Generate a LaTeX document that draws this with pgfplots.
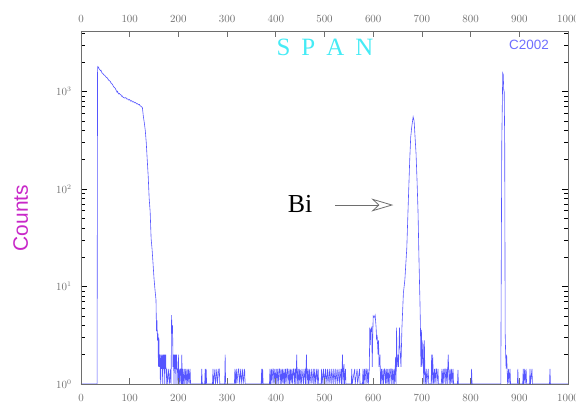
\documentclass[border=0pt]{standalone}
\usepackage{pgfplots}
\pgfplotsset{compat=1.18}
\usepackage{fontspec}
\setmainfont{Liberation Serif}
\newfontfamily\arialfont{Liberation Sans}
\usetikzlibrary{arrows.meta}
\definecolor{specblue}{RGB}{85,85,255}
\definecolor{tickgray}{RGB}{110,110,110}
\definecolor{spanc}{RGB}{70,235,245}
\definecolor{countm}{RGB}{200,40,200}
\definecolor{cblue}{RGB}{110,110,255}
\begin{document}
\begin{tikzpicture}
\useasboundingbox (-81bp,-19bp) rectangle (495bp,384bp);
\begin{axis}[
  at={(0,0)}, anchor=south west,
  scale only axis, width=487bp, height=353bp,
  xmin=0, xmax=1000, ymin=1, ymax=4200, ymode=log,
  xtick={0,100,...,1000},
  tick align=inside,
  axis on top,
  axis line style={tickgray, line width=0.8pt},
  major tick length=6bp, minor tick length=4bp,
  xtick style={tickgray, line width=0.7pt},
  ytick style={black, line width=0.7pt},
  minor tick style={tickgray, line width=0.5pt},
  tick label style={font=\fontsize{10.5}{11}\selectfont, text=tickgray},
  /pgf/number format/1000 sep={},
  xticklabel shift=7bp,
  yticklabel style={anchor=east, xshift=-6bp},
  ylabel={Counts},
  ylabel style={at={(axis description cs:-0.124,0.47)}, anchor=center, rotate=0, text=countm, font=\arialfont\fontsize{21}{24}\selectfont},
]
\addplot[specblue, line width=0.6pt, no marks] coordinates {
(0,1) (33,1) (34,1800) (35,1760) (36,1790) (37,1720) (38,1700) (40,1640) (41,1660) (43,1560) (45,1540) (46,1500) (48,1480) (50,1450) (52,1400) (54,1390) (56,1330) (58,1300) (60,1280) (62,1220) (64,1200) (66,1150) (68,1110) (70,1090) (72,1040) (74,990) (75,1010) (77,950) (79,960) (80,940) (82,930) (83,900) (85,905) (86,880) (88,870) (90,860) (92,870) (94,840) (96,845) (98,820) (100,830) (102,800) (104,810) (106,785) (108,790) (110,770) (112,775) (114,750) (116,755) (118,735) (120,740) (121,720) (123,710) (124,700) (126,690) (128,560) (130,480) (132,400) (134,300) (136,200) (138,136) (140,80) (142,59) (144,31) (146,24) (148,17) (150,12) (152,9.2) (154,7.3) (155,3.5) (156,4.5) (157,2.8) (158,3.3) (159,1.5) (160,3.0) (161,1.5) (162,2) (163,1) (164,2) (165,1.43) (166,2) (167,1) (168,2) (169,1.43) (170,2) (171,1) (172,2) (173,1.43) (174,2) (175,1) (176,1.43) (178,1) (180,1.43) (182,1) (184,1.43) (185,1) (186,5.1) (187,3.3) (188,4) (189,1.5) (190,2) (191,1) (192,2) (193,1.43) (194,2) (195,1) (196,2) (197,1.43) (198,1.43) (199,1) (200,2) (201,1) (202,1.43) (203,1) (204,1.43) (205,1.43) (206,1) (207,2) (208,1) (209,1.43) (210,1) (212,1.43) (213,1) (215,1.43) (216,1) (218,1.43) (219,1) (221,1.43) (222,1) (224,1.43) (225,1)
(247,1) (248,1.43) (249,1) (254,1) (255,1.43) (256,1) (257,1.43) (258,1)
(270,1) (271,1.43) (272,1) (275,1.43) (276,1) (279,1.43) (280,1) (283,1.43) (284,1.43) (285,1) (295,1) (296,2) (297,1)
(315,1) (316,1.43) (317,1) (319,1.43) (320,1) (323,1.43) (324,1.43) (325,1) (328,1.43) (329,1) (332,1.43) (333,1) (336,1.43) (337,1)
(370,1) (371,1.43) (372,1) (373,1.43) (374,1)
(387,1) (388,1.43) (389,1) (391,1.43) (392,1) (394,1.43) (395,1.43) (396,1) (398,1.43) (399,1) (401,1.43) (402,1) (404,1.43) (405,1) (407,1.43) (408,1.43) (409,1) (411,1.43) (412,1) (414,1.43) (415,1) (417,1.43) (418,1) (420,1.43) (421,1) (423,1.43) (424,1.43) (425,1) (427,1.43) (428,1) (430,1.43) (431,1) (433,1.43) (434,1) (436,1.43) (437,1.43) (438,1) (440,1.43) (441,1) (443,2) (444,1) (446,1.43) (447,1) (449,1.43) (450,1) (452,1.43) (453,1) (456,1.43) (457,1) (460,1.43) (461,1) (463,2) (464,1) (466,1.43) (467,1) (469,1.43) (470,1) (473,1.43) (474,1) (477,1.43) (478,1) (480,1.43) (481,1) (484,1.43) (485,1) (487,1.43) (488,1)
(493,1) (494,1.43) (495,1) (498,1.43) (499,1) (502,1.43) (503,1) (506,1.43) (507,1) (510,1.43) (511,1) (514,1.43) (515,1) (518,1.43) (519,1) (522,1.43) (523,1) (526,1.43) (527,1) (530,1.43) (531,1) (534,1.43) (535,1) (537,2) (538,1) (540,1.6) (541,1) (543,1.43) (544,1)
(555,1) (556,1.43) (557,1) (562,1.43) (563,1) (567,1.43) (568,1) (572,1.43) (573,1) (578,1) (579,1.43) (580,1) (582,1.43) (583,1) (585,1.43) (586,1.43) (587,1) (589,1.43) (590,1) (592,1.43) (593,3.8) (594,2.5) (595,3.6) (597,3.8) (598,1.5) (599,3.0) (600,5.0) (602,4.8) (604,5.1) (606,3.8) (607,2.8) (608,3.2) (610,2.0) (611,2.8) (612,1.5) (614,2.0) (615,1)
(617,1.43) (618,1) (620,1.43) (621,1) (623,1.43) (624,1.43) (625,1) (627,1.43) (628,1) (630,1.43) (631,1) (633,1.43) (634,1) (636,1.43) (637,1.43) (638,1) (640,1.43) (641,1) (643,1.43) (644,1) (646,1.9) (647,1) (648,3.8) (649,1.5) (651,2.0) (652,1.5) (654,3.8) (655,2.4) (657,1.5) (659,3.8) (662,8.6) (665,11.7) (669,25) (672,72) (675,200) (677,340) (679,430) (682,553) (684,500) (686,340) (688,230) (690,123) (692,60) (694,19) (696,7) (697,3.8) (698,1.5) (699,3.6) (700,1.5) (702,2.8) (703,1.5) (704,1.0) (705,2.8) (706,1.5) (707,1)
(709,1.43) (710,1) (713,1.43) (714,1) (719,1) (720,2) (721,1) (722,2) (723,1.43) (724,1) (726,1.43) (727,1) (729,1.43) (730,1.43) (731,1) (733,1.43) (734,1)
(740,1) (741,1.43) (742,1) (744,1.43) (745,1) (747,1.43) (748,1.43) (749,1) (751,1.43) (752,1) (754,2) (755,1.43) (756,1) (758,1.43) (759,1) (761,1.43) (762,1) (764,1.43) (765,1)
(773,1) (774,1.4) (775,1) (801,1) (802,1.43) (803,1)
(862,1) (864,300) (866,1550) (867,1500) (868,1050) (869,1000) (870,320) (871,3.3) (872,2.0) (873,1.43) (874,2.0) (875,1.43) (876,1) (878,1.43) (879,1) (881,1.43) (882,1)
(896,1) (897,1.43) (898,1) (907,1) (908,1.43) (909,1) (911,1.43) (912,1) (914,1.43) (915,1) (921,1) (922,1.43) (923,1) (926,1.43) (927,1) (962,1) (963,1.43) (964,1) (1000,1)
};
\node[text=spanc, font=\fontsize{25}{25}\selectfont, anchor=base] at (rel axis cs:0.501,0.93) {S\hspace{11bp}P\hspace{11bp}A\hspace{11bp}N};
\node[text=cblue, font=\arialfont\fontsize{13.5}{14}\selectfont] at (rel axis cs:0.92,0.96) {C2002};
\node[font=\fontsize{26}{26}\selectfont, anchor=base] at (rel axis cs:0.4497,0.485) {Bi};
\draw[tickgray, line width=0.8pt, -{Stealth[open, length=22bp, width=13bp, inset=7bp]}] (rel axis cs:0.5216,0.507) -- (rel axis cs:0.6413,0.507);
\end{axis}
\begin{axis}[
  at={(0,0)}, anchor=south west,
  scale only axis, width=487bp, height=353bp,
  xmin=0, xmax=1000, ymin=1, ymax=4200, ymode=log,
  hide y axis, axis x line*=top,
  axis line style={draw=none},
  xtick={0,100,...,1000},
  major tick length=0pt, xtick style={draw=none},
  tick label style={font=\fontsize{10.5}{11}\selectfont, text=tickgray},
  /pgf/number format/1000 sep={},
  xticklabel shift=5bp,
]
\end{axis}
\end{tikzpicture}
\end{document}
